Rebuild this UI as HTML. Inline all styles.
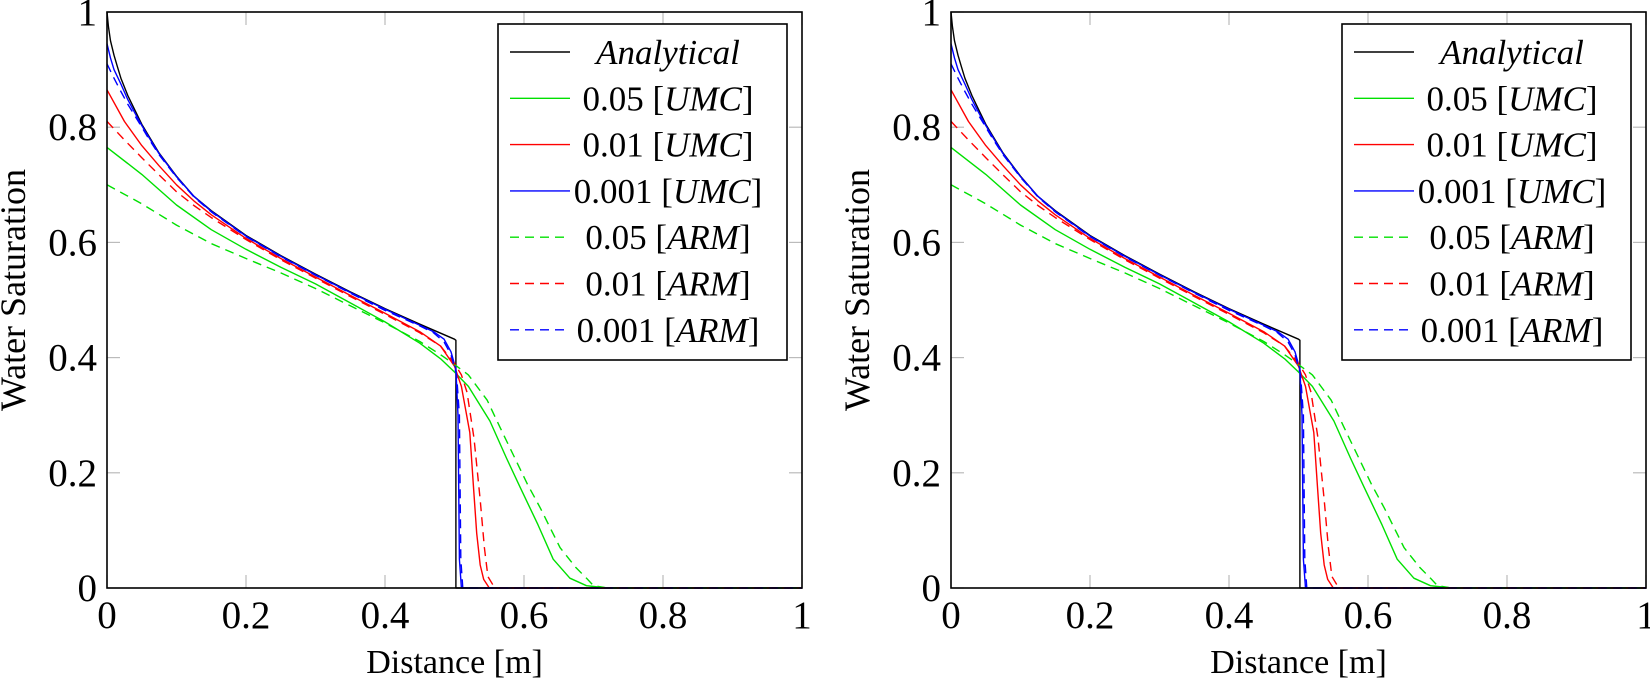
<!DOCTYPE html>
<html><head><meta charset="utf-8"><style>
html,body{margin:0;padding:0;background:#fff;}
svg{display:block;}
text{font-family:"Liberation Serif",serif;fill:#000;}
</style></head><body>
<svg id="s" width="1650" height="681" xmlns="http://www.w3.org/2000/svg"></svg>
<script>
const S=document.getElementById('s');
const NS='http://www.w3.org/2000/svg';
function el(t,a,txt){const e=document.createElementNS(NS,t);for(const k in a)e.setAttribute(k,a[k]);if(txt!==undefined)e.innerHTML=txt;S.appendChild(e);return e;}
const W=695,H=576,T=12;
const anal=[[0,1],[0.002,0.975],[0.005,0.95],[0.01,0.925],[0.015,0.905],[0.02,0.885],[0.03,0.855],[0.04,0.83],[0.05,0.805],[0.06,0.785],[0.075,0.755],[0.1,0.715],[0.125,0.68],[0.15,0.655],[0.2,0.612],[0.25,0.577],[0.3,0.545],[0.35,0.514],[0.4,0.485],[0.45,0.458],[0.5,0.432],[0.502,0.43],[0.502,0],[1,0]];
const umc001=[[0,0.945],[0.005,0.92],[0.01,0.9],[0.02,0.875],[0.03,0.848],[0.04,0.825],[0.05,0.803],[0.06,0.783],[0.075,0.754],[0.1,0.714],[0.125,0.68],[0.15,0.654],[0.2,0.611],[0.25,0.576],[0.3,0.544],[0.35,0.513],[0.4,0.484],[0.45,0.456],[0.47,0.445],[0.485,0.432],[0.495,0.41],[0.502,0.38],[0.505,0.3],[0.507,0.05],[0.51,0],[1,0]];
const arm001=[[0,0.91],[0.01,0.885],[0.02,0.862],[0.03,0.84],[0.04,0.82],[0.05,0.8],[0.06,0.78],[0.075,0.752],[0.1,0.713],[0.125,0.679],[0.15,0.653],[0.2,0.61],[0.25,0.575],[0.3,0.543],[0.35,0.512],[0.4,0.482],[0.45,0.455],[0.47,0.443],[0.485,0.427],[0.495,0.405],[0.503,0.37],[0.507,0.3],[0.509,0.05],[0.512,0],[1,0]];
const umc01=[[0,0.865],[0.025,0.81],[0.05,0.768],[0.075,0.733],[0.1,0.7],[0.125,0.672],[0.15,0.648],[0.2,0.607],[0.25,0.572],[0.3,0.54],[0.35,0.508],[0.4,0.477],[0.45,0.445],[0.48,0.42],[0.5,0.385],[0.51,0.35],[0.522,0.27],[0.527,0.18],[0.532,0.095],[0.537,0.04],[0.542,0.015],[0.55,0],[1,0]];
const arm01=[[0,0.81],[0.025,0.778],[0.05,0.747],[0.075,0.717],[0.1,0.688],[0.125,0.664],[0.15,0.643],[0.2,0.605],[0.25,0.57],[0.3,0.538],[0.35,0.506],[0.4,0.475],[0.45,0.443],[0.48,0.42],[0.5,0.39],[0.51,0.37],[0.518,0.34],[0.528,0.26],[0.537,0.153],[0.543,0.07],[0.548,0.02],[0.558,0],[1,0]];
const umc05=[[0,0.765],[0.05,0.718],[0.1,0.665],[0.15,0.622],[0.2,0.588],[0.25,0.557],[0.3,0.528],[0.35,0.495],[0.4,0.462],[0.45,0.425],[0.48,0.398],[0.5,0.375],[0.52,0.35],[0.551,0.29],[0.575,0.225],[0.594,0.176],[0.62,0.11],[0.642,0.05],[0.666,0.017],[0.69,0.004],[0.72,0],[1,0]];
const arm05=[[0,0.70],[0.05,0.667],[0.1,0.63],[0.15,0.598],[0.2,0.572],[0.25,0.547],[0.3,0.52],[0.35,0.49],[0.4,0.46],[0.45,0.428],[0.48,0.405],[0.5,0.388],[0.52,0.37],[0.547,0.326],[0.565,0.28],[0.585,0.23],[0.605,0.18],[0.623,0.14],[0.652,0.07],[0.675,0.035],[0.69,0.017],[0.70,0.004],[0.72,0],[1,0]];
const series=[[anal,'#000',''],[umc05,'#00e000',''],[umc01,'#ff0000',''],[umc001,'#0000ff',''],[arm05,'#00e000','9 6'],[arm01,'#ff0000','9 6'],[arm001,'#0000ff','9 6']];
function plot(L){
  const X=x=>L+W*x, Y=y=>T+H*(1-y);
  for(let i=0;i<=5;i++){
    const v=i*0.2, x=X(v), y=Y(v);
    el('line',{x1:x,y1:T+H,x2:x,y2:T+H-13,stroke:'#bbb','stroke-width':1.2});
    el('line',{x1:x,y1:T,x2:x,y2:T+13,stroke:'#bbb','stroke-width':1.2});
    el('line',{x1:L,y1:y,x2:L+13,y2:y,stroke:'#bbb','stroke-width':1.2});
    el('line',{x1:L+W,y1:y,x2:L+W-13,y2:y,stroke:'#bbb','stroke-width':1.2});
    const lab=(i==0?'0':i==5?'1':v.toFixed(1));
    el('text',{x:L-10,y:y+13,'text-anchor':'end','font-size':39},lab);
    el('text',{x:x,y:T+H+40,'text-anchor':'middle','font-size':39},lab);
  }
  for(const [pts,c,d] of series){
    const p=pts.map(q=>X(q[0]).toFixed(1)+','+Y(q[1]).toFixed(1)).join(' ');
    const a={points:p,fill:'none',stroke:c,'stroke-width':1.4,'stroke-linejoin':'round'};
    if(d)a['stroke-dasharray']=d;
    el('polyline',a);
  }
  el('rect',{x:L,y:T,width:W,height:H,fill:'none',stroke:'#000','stroke-width':1.6});
  el('text',{x:L+W/2,y:673,'text-anchor':'middle','font-size':34},'Distance [m]');
  el('text',{x:0,y:0,'text-anchor':'middle','font-size':36,transform:`translate(${L-82},${T+H/2-10}) rotate(-90)`},'Water Saturation');
  const lx=L+391, ly=24;
  el('rect',{x:lx,y:ly,width:289,height:336,fill:'#fff',stroke:'#000','stroke-width':1.6});
  const labs=['<tspan font-style="italic">Analytical</tspan>','0.05 [<tspan font-style="italic">UMC</tspan>]','0.01 [<tspan font-style="italic">UMC</tspan>]','0.001 [<tspan font-style="italic">UMC</tspan>]','0.05 [<tspan font-style="italic">ARM</tspan>]','0.01 [<tspan font-style="italic">ARM</tspan>]','0.001 [<tspan font-style="italic">ARM</tspan>]'];
  for(let i=0;i<7;i++){
    const cy=52+i*46.3, [pts,c,d]=series[i];
    const a={x1:lx+12,y1:cy,x2:lx+72,y2:cy,stroke:c,'stroke-width':1.4};
    if(d)a['stroke-dasharray']=d;
    el('line',a);
    el('text',{x:lx+170,y:cy+12,'text-anchor':'middle','font-size':35},labs[i]);
  }
}
plot(107);plot(951);
</script>
</body></html>
